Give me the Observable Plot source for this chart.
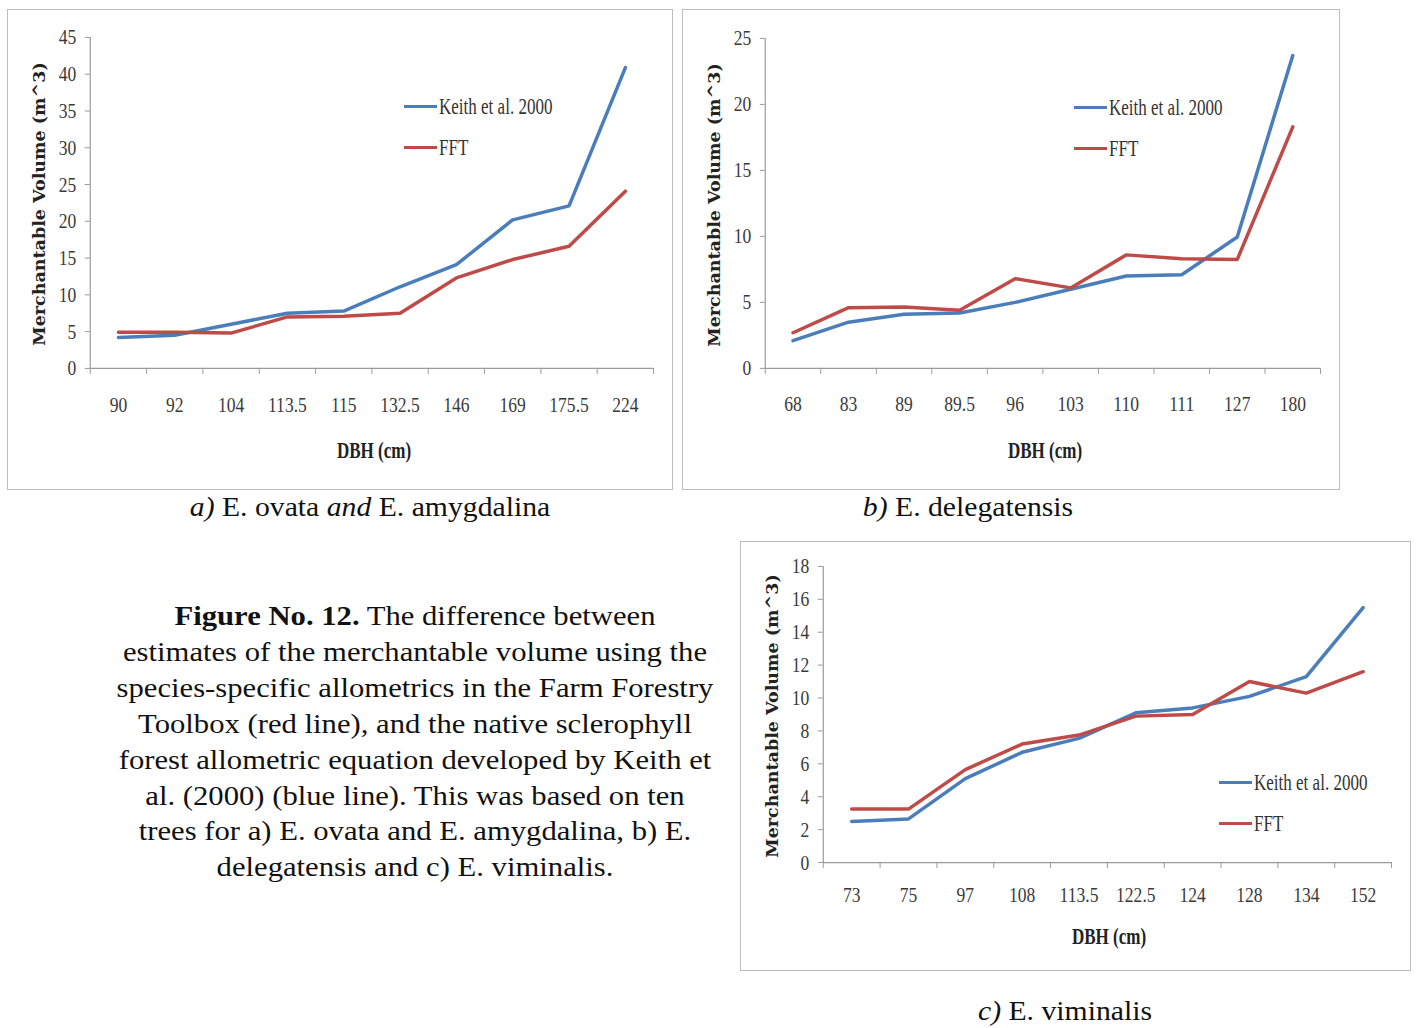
<!DOCTYPE html>
<html>
<head>
<meta charset="utf-8">
<script src="https://cdn.jsdelivr.net/npm/d3@7"></script>
<script src="https://cdn.jsdelivr.net/npm/@observablehq/plot@0.6"></script>
<style>
  html, body { margin: 0; padding: 0; background: #fff; }
  #page { position: relative; width: 1417px; height: 1028px; overflow: hidden; font-family: "Liberation Serif", "DejaVu Serif", serif; color: #111; }
  .panel { position: absolute; box-sizing: border-box; border: 1.5px solid #bdbdbd; background: #fff; }
  .panel svg { position: absolute; left: -1.5px; top: -1.5px; }
  .chart g[aria-label^="x-axis"] line, .chart g[aria-label^="x-axis"] path,
  .chart g[aria-label^="y-axis"] line, .chart g[aria-label^="y-axis"] path { stroke: #9a9a9a; }
  .ytitle { position: absolute; white-space: nowrap; transform: translate(-50%, -50%) rotate(-90deg);
    font-family: "DejaVu Serif", "Liberation Serif", serif; font-weight: bold; font-size: 17.5px; color: #222; }
  .xtitle { position: absolute; white-space: nowrap; transform: translate(-50%, -50%) scaleX(0.74);
    font-family: "Liberation Serif", serif; font-weight: bold; font-size: 23px; color: #222; }
  .legend { position: absolute; font-family: "Liberation Serif", serif; font-size: 23px; color: #333; }
  .legend .item { display: flex; align-items: center; height: 41px; white-space: nowrap; }
  .legend .sw { display: inline-block; width: 33px; height: 3.4px; margin-right: 2px; flex: none; }
  .legend .lt { display: inline-block; transform: scaleX(0.74); transform-origin: left center; }
  .cap { position: absolute; white-space: nowrap; transform: translateX(-50%) scaleX(1.1); font-size: 27px; color: #111; }
  #fig { position: absolute; left: 415px; top: 598px; transform: translateX(-50%) scaleX(1.095); text-align: center; font-size: 28px; line-height: 35.9px; white-space: nowrap; color: #111; }
</style>
</head>
<body>
<div id="page"></div>
<script>
// ---------- data ----------
const seriesNames = ["Keith et al. 2000", "FFT"];
const seriesColors = ["#4a7ebb", "#be4b48"];

const dbhA = ["90", "92", "104", "113.5", "115", "132.5", "146", "169", "175.5", "224"];
const keithA = [4.2, 4.5, 6.0, 7.5, 7.8, 11.1, 14.1, 20.2, 22.1, 40.9];
const fftA = [4.9, 4.9, 4.8, 7.0, 7.1, 7.5, 12.3, 14.8, 16.6, 24.1];
const yTicksA = [0, 5, 10, 15, 20, 25, 30, 35, 40, 45];

const dbhB = ["68", "83", "89", "89.5", "96", "103", "110", "111", "127", "180"];
const keithB = [2.1, 3.5, 4.1, 4.2, 5.0, 6.0, 7.0, 7.1, 9.95, 23.7];
const fftB = [2.7, 4.6, 4.65, 4.4, 6.8, 6.1, 8.6, 8.3, 8.25, 18.3];
const yTicksB = [0, 5, 10, 15, 20, 25];

const dbhC = ["73", "75", "97", "108", "113.5", "122.5", "124", "128", "134", "152"];
const keithC = [2.5, 2.65, 5.1, 6.7, 7.55, 9.1, 9.4, 10.1, 11.3, 15.5];
const fftC = [3.25, 3.25, 5.65, 7.2, 7.75, 8.9, 9.0, 11.0, 10.3, 11.6];
const yTicksC = [0, 2, 4, 6, 8, 10, 12, 14, 16, 18];

const yTitle = "Merchantable Volume (m^3)";
const xTitle = "DBH (cm)";

// ---------- layout ----------
const page = document.getElementById("page");
const chartFont = '"Liberation Serif", "DejaVu Serif", serif';
const squeeze = 0.8;

// condense every svg text horizontally around its anchor point
function condense(svg, s) {
  svg.querySelectorAll("text").forEach(t => {
    const b = t.getBBox();
    const anchor = getComputedStyle(t).textAnchor;
    const cx = anchor === "end" ? b.x + b.width : anchor === "middle" ? b.x + b.width / 2 : b.x;
    const tr = t.getAttribute("transform") || "";
    t.setAttribute("transform", `${tr} translate(${cx},0) scale(${s},1) translate(${-cx},0)`);
  });
}

function panel(cfg) {
  const {left, top, width, height, mL, mR, mT, mB, cats, keith, fft, yTicks, labelDy, legend} = cfg;
  const div = document.createElement("div");
  div.className = "panel";
  Object.assign(div.style, {left: left + "px", top: top + "px", width: width + "px", height: height + "px"});
  page.appendChild(div);

  const n = cats.length;
  const idx = d3.range(n);
  const bounds = d3.range(n + 1).map(i => i - 0.5);
  const ymax = yTicks[yTicks.length - 1];

  const chart = Plot.plot({
    width, height,
    marginLeft: mL, marginRight: mR, marginTop: mT, marginBottom: mB,
    style: {fontFamily: chartFont, fontSize: "22px", color: "#3a3a3a", background: "transparent", overflow: "visible"},
    x: {type: "linear", domain: [-0.5, n - 0.5], ticks: bounds, tickFormat: () => "", tickSize: 6, label: null},
    y: {domain: [0, ymax], ticks: yTicks, tickSize: 5, tickPadding: 9, label: null},
    marks: [
      Plot.ruleY([0], {stroke: "#9a9a9a", strokeWidth: 1.2}),
      Plot.ruleX([-0.5], {stroke: "#9a9a9a", strokeWidth: 1.2}),
      Plot.text(idx, {x: d => d, y: () => 0, text: d => cats[d], dy: labelDy, fill: "#3a3a3a", fontSize: 22}),
      Plot.line(idx, {x: d => d, y: d => keith[d], stroke: seriesColors[0], strokeWidth: 3.5, strokeLinejoin: "miter"}),
      Plot.line(idx, {x: d => d, y: d => fft[d], stroke: seriesColors[1], strokeWidth: 3.5, strokeLinejoin: "miter"})
    ]
  });
  chart.classList.add("chart");
  div.appendChild(chart);
  condense(chart, squeeze);

  // axis titles
  const yt = document.createElement("div");
  yt.className = "ytitle";
  yt.textContent = yTitle;
  yt.style.left = cfg.yTitleX + "px";
  yt.style.top = (mT + (height - mT - mB) / 2) + "px";
  div.appendChild(yt);

  const xt = document.createElement("div");
  xt.className = "xtitle";
  xt.textContent = xTitle;
  xt.style.left = (mL + (width - mL - mR) / 2) + "px";
  xt.style.top = cfg.xTitleY + "px";
  div.appendChild(xt);

  // legend
  const lg = document.createElement("div");
  lg.className = "legend";
  lg.style.left = legend[0] + "px";
  lg.style.top = legend[1] + "px";
  seriesNames.forEach((name, i) => {
    const it = document.createElement("div");
    it.className = "item";
    const sw = document.createElement("span");
    sw.className = "sw";
    sw.style.background = seriesColors[i];
    it.appendChild(sw);
    const lt = document.createElement("span");
    lt.className = "lt";
    lt.textContent = name;
    it.appendChild(lt);
    lg.appendChild(it);
  });
  div.appendChild(lg);
}

panel({left: 7, top: 9, width: 666, height: 481, mL: 83, mR: 18, mT: 28, mB: 121,
  cats: dbhA, keith: keithA, fft: fftA, yTicks: yTicksA, labelDy: 37,
  yTitleX: 31, xTitleY: 441, legend: [396, 76]});
panel({left: 682, top: 9, width: 658, height: 481, mL: 83, mR: 18, mT: 29, mB: 121,
  cats: dbhB, keith: keithB, fft: fftB, yTicks: yTicksB, labelDy: 36,
  yTitleX: 31, xTitleY: 441, legend: [391, 77]});
panel({left: 740, top: 541, width: 671, height: 430, mL: 83, mR: 18, mT: 25, mB: 108,
  cats: dbhC, keith: keithC, fft: fftC, yTicks: yTicksC, labelDy: 33,
  yTitleX: 31, xTitleY: 395, legend: [478, 220]});

// captions
function caption(html, cx, top) {
  const c = document.createElement("div");
  c.className = "cap";
  c.innerHTML = html;
  c.style.left = cx + "px";
  c.style.top = top + "px";
  page.appendChild(c);
}
caption("<i>a)</i> E. ovata <i>and</i> E. amygdalina", 370, 492);
caption("<i>b)</i> E. delegatensis", 968, 492);
caption("<i>c)</i> E. viminalis", 1065, 996);

const figLines = [
  "<b>Figure No. 12.</b> The difference between",
  "estimates of the merchantable volume using the",
  "species-specific allometrics in the Farm Forestry",
  "Toolbox (red line), and the native sclerophyll",
  "forest allometric equation developed by Keith et",
  "al. (2000) (blue line). This was based on ten",
  "trees for a) E. ovata and E. amygdalina, b) E.",
  "delegatensis and c) E. viminalis."
];
const fig = document.createElement("div");
fig.id = "fig";
fig.innerHTML = figLines.join("<br>");
page.appendChild(fig);
</script>
</body>
</html>
